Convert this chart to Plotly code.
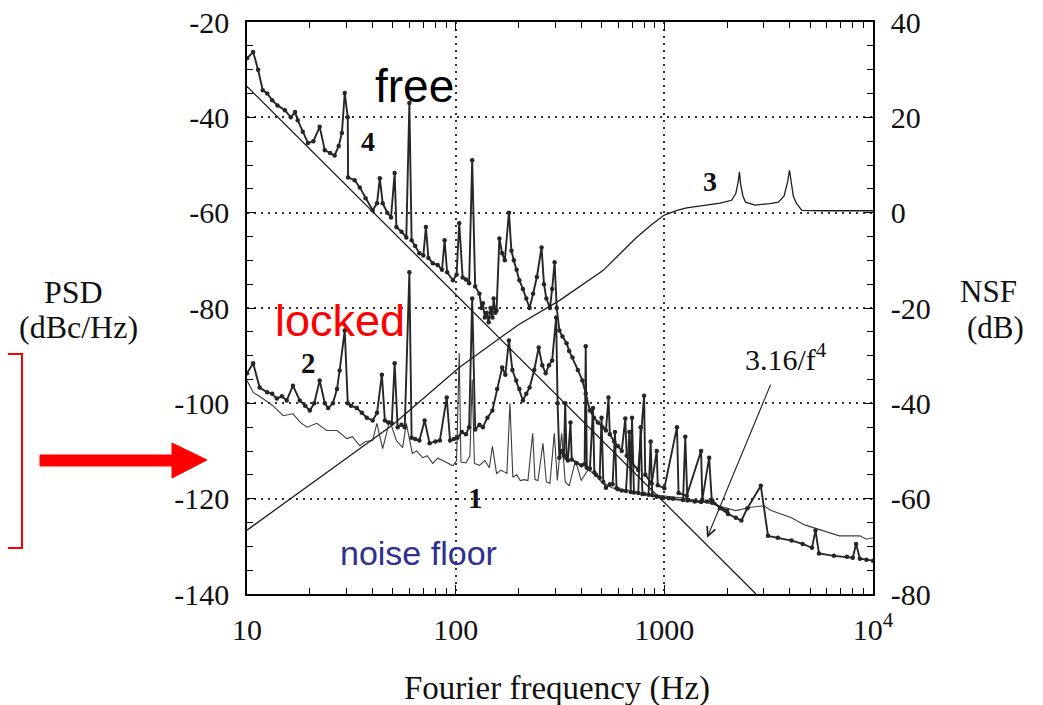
import math
import plotly.graph_objects as go

# ---------------- data ----------------
# curve 4 : free-running PSD (dBc/Hz)
free_f = [10, 10.7, 11.3, 11.9, 12.5, 13.2, 14.0, 15.2, 16.2, 17.0, 17.5, 18.5, 19.6, 20.8, 22.3,
          23.6, 25, 26.3, 27.5, 28.5, 29.4, 30.4, 30.5, 32.8, 34.7, 37, 40, 42, 43.3, 44.7, 47, 49,
          51, 52, 55, 58, 60, 61.5, 64, 67, 70, 72, 74, 77.7, 82, 86, 88.5, 91, 97, 101, 104, 108,
          112, 116, 120, 124, 130, 133, 135, 138, 141, 144, 147, 150, 152, 155, 157, 162, 167, 172,
          180, 185, 190, 196, 202, 210, 218, 226, 235, 245, 258, 265, 272, 283, 290, 298, 305, 314,
          325, 340, 350, 363, 385, 405, 420, 440, 460, 480, 505, 525, 540, 548, 575, 600, 625, 650,
          660, 700, 750, 800, 810, 870, 920, 930, 1000, 1150, 1170, 1280, 1500, 1520, 1640, 1690, 2000]
free_db = [-27.6, -26.3, -30, -34.3, -35, -36.4, -37.5, -38.5, -40, -38.9, -40.6, -43, -45.4, -45, -42,
           -46.9, -47.5, -48, -46, -43.3, -34.9, -40, -52.6, -53.2, -54.7, -57, -59.5, -58, -52.8, -58, -60, -61,
           -51.7, -63, -64, -65.2, -37, -65.8, -67, -68.5, -69, -63, -69.5, -70.6, -71, -72, -65.8, -72.5, -74.2, -73, -62.2, -73.6,
           -74, -74.8, -49, -75.5, -77, -80, -79, -82, -81, -83, -80, -82, -78, -81, -80.5, -65.4, -68.5, -70,
           -60, -68, -70, -72, -74.2, -76, -78, -80, -77, -73.5, -67.3, -75, -78, -80, -76, -70.4, -80, -84.7,
           -86, -87.4, -89, -90.4, -93, -95.2, -98, -101.5, -103, -104, -105, -105.7, -98.8, -106.5, -108, -109, -110, -103.2,
           -111, -112.5, -114, -98.4, -115, -116.8, -110, -117.2, -117.8, -105, -118.8, -119.4, -110, -120.2, -111.4, -120.8, -122.5]

# curve 2 : locked PSD (dBc/Hz)
locked_f = [10, 10.7, 11.5, 12.5, 13.2, 13.9, 14.7, 15.5, 16.6, 17.9, 19, 20, 21, 22.3, 23.6, 24.5,
            25.8, 27, 27.8, 29.4, 30.4, 31.5, 33.6, 35.5, 37.5, 40, 42, 44.3, 45.8, 47.5, 49.4, 51,
            52.7, 55, 57, 60, 61.5, 64, 67, 71, 75, 80, 84, 90.6, 94, 98, 102, 107, 112, 116, 120,
            124, 130, 135, 142, 150, 158, 167, 173, 180, 187, 195, 202, 210, 218, 226, 238, 250, 260,
            270, 280, 290, 303, 308, 314, 322, 330, 335, 340, 345, 355, 360, 380, 400, 415, 420, 425,
            440, 455, 462, 470, 490, 500, 510, 525, 548, 565, 580, 590, 600, 625, 655, 680, 690, 700,
            715, 750, 770, 785, 800, 840, 860, 875, 920, 985, 1050, 1100, 1230, 1260, 1290, 1400,
            1500, 1600, 1700, 1850, 2020, 2200, 2340, 2500, 2900, 3140, 3500, 4070, 4600, 5100, 5300,
            5510, 6500, 7500, 8000, 8300, 8650, 9300, 10000]
locked_db = [-93.7, -91.6, -96.7, -97.7, -98, -99, -98.5, -99.4, -96.3, -99.4, -100.5, -101.5, -100, -95.2, -100, -101,
             -100, -97, -93.1, -84.7, -100, -100.5, -101, -102, -103, -103.6, -102, -94, -103.6, -104, -104.2, -91.6,
             -105, -104.5, -105, -72.5, -107.2, -107.5, -107.8, -103.6, -108.4, -108, -107.8, -98.8, -107.8, -107.5, -107.2, -106, -106.5, -105, -78,
             -105.5, -104.5, -105, -103, -101.5, -97, -92.5, -94, -86.8, -93, -95.2, -97, -99.4, -98, -96.7, -93, -88.3, -92,
             -93.7, -92, -91, -82, -100, -111.4, -110, -111, -100, -111.5, -112, -104, -111.8, -112.5, -113, -112.8, -88, -113.5,
             -113.7, -101, -114.5, -115, -115.6, -103, -116.5, -117.7, -117, -117, -106, -117.8, -118, -118.3, -118.4, -106, -118.6, -103,
             -118.7, -118.8, -105, -119, -119, -119.2, -108, -119.3, -119.6, -119.8, -119.9, -120, -120.3, -107, -120.4, -120.6,
             -120.7, -120.6, -120.4, -122, -123.2, -124, -124.6, -122, -117.3, -127.8, -128.2, -128.8, -129.5, -130.3, -126.7,
             -131.5, -132, -132.2, -132.4, -129.5, -132.6, -132.8, -133]

# curve 1 : noise floor PSD (dBc/Hz)
floor_f = [10, 10.7, 11.9, 13.3, 14.9, 16.6, 18, 19.4, 21.6, 24.1, 27, 30.1, 32, 34.7, 37, 40, 41.9,
           44.7, 48.3, 52, 55.7, 58, 62, 65, 69.5, 73, 77.7, 82, 86.7, 92, 97, 101, 104, 106, 112,
           117, 120, 123, 130, 138, 145, 150, 157, 165, 176, 182, 188, 196, 204, 213, 222, 234, 240,
           248, 262, 272, 283, 297, 307, 322, 335, 350, 375, 400, 430, 460, 500, 560, 620, 700, 800,
           1000, 1200, 1500, 1800, 2200, 2600, 3000, 3250, 4070, 4700, 5330, 6000, 6900, 8000, 8650,
           9300, 10000]
floor_db = [-95.2, -97.7, -99, -100.5, -102.6, -102.2, -104, -105, -104.2, -105.7, -105.7, -107.4, -107, -108.9, -108, -107.8, -104.2,
            -109.5, -103.6, -107.8, -109.3, -104.2, -110.5, -110, -111.4, -111, -112.6, -111.5, -112, -112.5, -113.1, -112, -89.5, -112.3, -112.5,
            -111, -95, -112.6, -113, -112, -113.5, -109, -114.7, -114, -114.7, -100, -115.5, -115, -116.2, -116, -116.2, -106.3, -116,
            -116.2, -108.4, -116.5, -116.8, -106.3, -116.2, -106.3, -116.5, -117.3, -112, -116.2, -114, -114.7, -116.5, -117.7, -118, -118.5, -119,
            -119.4, -119.8, -120.5, -121.5, -122.5, -121.8, -121.5, -122.5, -124, -125.5, -126.3, -127, -127.8, -127.8, -127.8,
            -128.5, -128.2]

# curve 3 : noise suppression factor (dB, right axis)
nsf_f = [10, 20, 50, 104, 200, 315, 510, 735, 870, 1000, 1150, 1280, 1500, 1850, 2100, 2200, 2260, 2290,
         2320, 2380, 2450, 2720, 3200, 3520, 3750, 3900, 3980, 4060, 4150, 4290, 4560, 5700, 10000]
nsf_db = [-66.6, -57, -44.5, -32.5, -23.5, -18.4, -12.1, -5.2, -2.5, -0.5, 0.5, 1.0, 1.5, 2.0, 2.6, 4.0, 6.5, 8.5,
          6.0, 3.5, 2.2, 1.6, 1.9, 2.2, 3.5, 6.5, 8.9, 6.0, 3.5, 2.0, 0.5, 0.4, 0.4]

# reference slope line
ref_f = [10, 2750]
ref_db = [-33.5, -140]

x_tickvals = [10, 100, 1000, 10000]
x_ticktext = ["10", "100", "1000", "10<sup>4</sup>"]
psd_ticks = [-140, -120, -100, -80, -60, -40, -20]
nsf_ticks = [-80, -60, -40, -20, 0, 20, 40]

# ---------------- layout helpers ----------------
VW, VH = 1043, 705          # browser window
OFF = 8                     # default page margin in front of the figure
W, H = VW - OFF, VH - OFF
L, R, T, B = 247, 873, 22, 594   # plot box, in window pixels


def px(x):
    return (x - L) / (R - L)


def py(y):
    return (B - y) / (B - T)


SERIF = "Liberation Serif, Times New Roman, serif"
SANS = "Liberation Sans, Arial, sans-serif"
INK = "#262626"

fig = go.Figure()
fig.add_trace(go.Scatter(x=floor_f, y=floor_db, mode="lines",
                         line=dict(color="#3c3c3c", width=1.1), hoverinfo="skip"))
fig.add_trace(go.Scatter(x=locked_f, y=locked_db, mode="lines+markers",
                         line=dict(color=INK, width=1.9),
                         marker=dict(size=4.5, color=INK), hoverinfo="skip"))
fig.add_trace(go.Scatter(x=free_f, y=free_db, mode="lines+markers",
                         line=dict(color=INK, width=1.9),
                         marker=dict(size=4.5, color=INK), hoverinfo="skip"))
fig.add_trace(go.Scatter(x=ref_f, y=ref_db, mode="lines",
                         line=dict(color="#1e1e1e", width=1.3), hoverinfo="skip"))
fig.add_trace(go.Scatter(x=nsf_f, y=nsf_db, mode="lines", yaxis="y2",
                         line=dict(color="#1e1e1e", width=1.3), hoverinfo="skip"))

minor_x = [m * 10 ** k for k in range(1, 4) for m in range(2, 10)]
minor_psd = [v for v in range(-135, -20, 5) if v % 20 != 0]
minor_nsf = [v for v in range(-75, 40, 5) if v % 20 != 0]

common_tick = dict(ticks="inside", ticklen=9, tickwidth=1.4, tickcolor="black",
                   showline=True, linecolor="black", linewidth=1.6, zeroline=False,
                   automargin=False, ticklabeloverflow="allow")
grid = dict(showgrid=True, gridcolor="#333333", gridwidth=1.6, griddash="2px,5px")
tfont = dict(family=SERIF, size=30, color="#111")

fig.update_layout(
    width=W, height=H,
    margin=dict(l=L - OFF, r=VW - R, t=T - OFF, b=VH - B, autoexpand=False),
    paper_bgcolor="white", plot_bgcolor="white",
    showlegend=False,
    xaxis=dict(type="log", range=[1, 4], tickvals=x_tickvals, ticktext=x_ticktext,
               mirror="ticks", tickfont=tfont, ticklabelstandoff=8,
               minor=dict(tickvals=minor_x, ticks="inside", ticklen=6, tickcolor="black",
                          tickwidth=1.2, showgrid=False),
               **common_tick, **grid),
    yaxis=dict(range=[-140, -20], tickvals=psd_ticks, ticktext=[str(v) for v in psd_ticks],
               mirror=True, tickfont=tfont, ticklabelstandoff=10,
               minor=dict(tickvals=minor_psd, ticks="inside", ticklen=6, tickcolor="black",
                          tickwidth=1.2, showgrid=False),
               **common_tick, **grid),
    yaxis2=dict(range=[-80, 40], overlaying="y", side="right", tickvals=nsf_ticks,
                ticktext=[str(v) for v in nsf_ticks], showgrid=False,
                tickfont=tfont, ticklabelstandoff=10,
                minor=dict(tickvals=minor_nsf, ticks="inside", ticklen=6, tickcolor="black",
                           tickwidth=1.2, showgrid=False),
                **common_tick),
)


def label(text, x, y, size, family=SERIF, color="#111", **kw):
    fig.add_annotation(text=text, x=px(x), y=py(y), xref="paper", yref="paper",
                       showarrow=False, xanchor="center", yanchor="middle",
                       font=dict(family=family, size=size, color=color), **kw)


label("free", 414, 86, 46, family=SANS, color="black")
label("locked", 340, 320, 45, family=SANS, color="#ff0000")
label("noise floor", 418, 553, 34, family=SANS, color="#2e3192")
label("<b>4</b>", 368, 141, 28)
label("<b>2</b>", 308, 363, 29)
label("<b>3</b>", 710, 181, 28)
label("<b>1</b>", 475, 498, 29)
label("3.16/f<sup>4</sup>", 786, 357, 30)
label("PSD", 73, 292, 32)
label("(dBc/Hz)", 78, 327, 32)
label("NSF", 988, 292, 31)
label("(dB)", 995, 327, 31)
label("Fourier frequency (Hz)", 557, 688, 33)

# arrow from the 3.16/f^4 label to the slope line
fig.add_annotation(x=math.log10(1603), y=-128.2, ax=math.log10(3250), ay=-95.8,
                   xref="x", yref="y", axref="x", ayref="y", text="",
                   showarrow=True, arrowhead=5, arrowsize=1.6, arrowwidth=1.1,
                   arrowcolor="#222")

# red box and red arrow on the left margin
fig.add_shape(type="rect", xref="paper", yref="paper",
              x0=px(-20), x1=px(22), y0=py(548), y1=py(354),
              line=dict(color="#ff0000", width=2), fillcolor="rgba(0,0,0,0)")
pts = [(40, 455), (172, 455), (172, 443), (207, 460), (172, 478), (172, 466), (40, 466)]
path = "M " + " L ".join(f"{px(a):.5f},{py(b):.5f}" for a, b in pts) + " Z"
fig.add_shape(type="path", xref="paper", yref="paper", path=path,
              fillcolor="#ff0000", line=dict(color="#ff0000", width=1))

fig.write_html("out.html")
